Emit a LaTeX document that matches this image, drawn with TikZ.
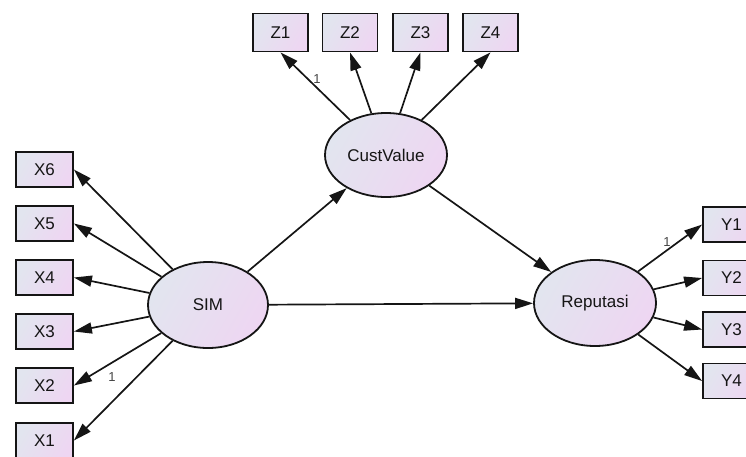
\documentclass[tikz,border=0pt]{standalone}
\usepackage{fontspec}
\setmainfont{Liberation Sans}
\usetikzlibrary{arrows.meta,shapes.geometric}
\definecolor{fillA}{HTML}{E2E5EF}
\definecolor{fillB}{HTML}{EED6F2}
\definecolor{ink}{HTML}{151515}
\begin{document}
\begin{tikzpicture}[x=1pt,y=-1pt,
  obs/.style={rectangle, draw=ink, line width=1.8pt, minimum width=57pt, minimum height=35pt, inner sep=0pt, left color=fillA, right color=fillB, shading angle=60, text=ink, font=\fontsize{17}{19}\selectfont},
  lat/.style={ellipse, draw=ink, line width=1.8pt, inner sep=0pt, left color=fillA, right color=fillB, shading angle=60, text=ink, font=\fontsize{17}{19}\selectfont},
  conn/.style={draw=ink, line width=1.7pt, -{Triangle[length=18pt,width=11pt]}},
  lbl/.style={text=ink!80, inner sep=0pt, font=\fontsize{13}{14}\selectfont}]
\useasboundingbox (0,0) rectangle (746,456);
\begin{scope}
\clip (0,0) rectangle (746,456);
% latent variables
\node[lat, minimum width=120pt, minimum height=86pt] (sim) at (208,305) {SIM};
\node[lat, minimum width=122pt, minimum height=84pt] (cv) at (386,155) {CustValue};
\node[lat, minimum width=122pt, minimum height=86pt] (rep) at (595,303) {Reputasi};
% X indicators
\node[obs] (x6) at (44.5,169.5) {X6};
\node[obs] (x5) at (44.5,223.5) {X5};
\node[obs] (x4) at (44.5,277.5) {X4};
\node[obs] (x3) at (44.5,331.5) {X3};
\node[obs] (x2) at (44.5,385.5) {X2};
\node[obs] (x1) at (44.5,440.5) {X1};
% Z indicators
\node[obs, minimum width=55pt, minimum height=38pt] (z1) at (280.5,32.5) {Z1};
\node[obs, minimum width=55pt, minimum height=38pt] (z2) at (350,32.5) {Z2};
\node[obs, minimum width=55pt, minimum height=38pt] (z3) at (420.5,32.5) {Z3};
\node[obs, minimum width=55pt, minimum height=38pt] (z4) at (490.5,32.5) {Z4};
% Y indicators
\node[obs] (y1) at (731.5,224.5) {Y1};
\node[obs] (y2) at (731.5,278) {Y2};
\node[obs] (y3) at (731.5,329.5) {Y3};
\node[obs] (y4) at (731.5,381) {Y4};
% connectors
\foreach \t in {x1,x2,x3,x4,x5,x6} \draw[conn] (sim) -- (\t.east);
\foreach \t in {z1,z2,z3,z4} \draw[conn] (cv) -- (\t.south);
\foreach \t in {y1,y2,y3,y4} \draw[conn] (rep) -- (\t.west);
\draw[conn] (sim) -- (cv);
\draw[conn] (sim) -- (rep);
\draw[conn] (cv) -- (rep);
% labels
\node[lbl] (l1) at (317,79) {1};
\node[lbl] (l2) at (112,377) {1};
\node[lbl] (l3) at (667,242) {1};
\end{scope}
\end{tikzpicture}
\end{document}
